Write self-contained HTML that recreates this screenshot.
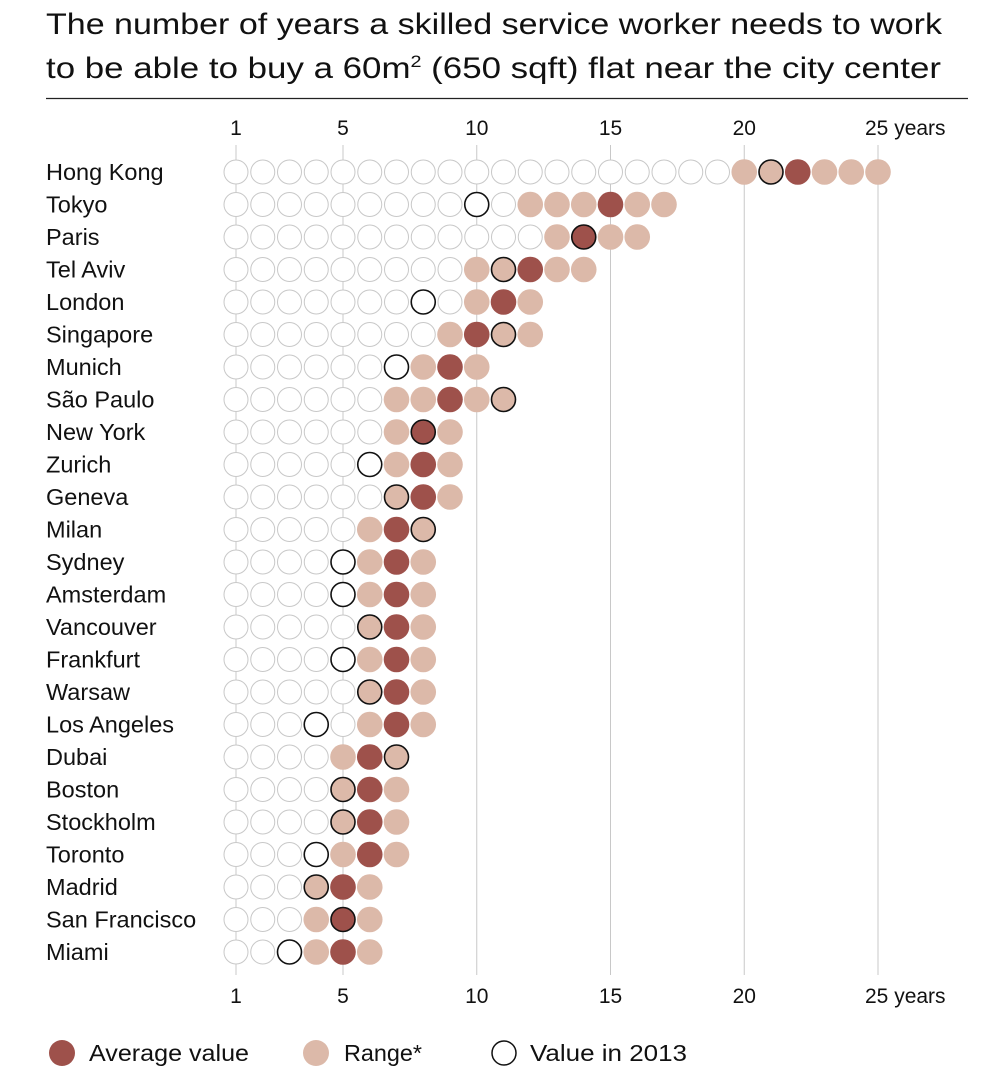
<!DOCTYPE html>
<html><head><meta charset="utf-8">
<style>
body{margin:0;background:#fff;width:1008px;height:1084px;overflow:hidden;font-family:"Liberation Sans",sans-serif;}
svg text{font-family:"Liberation Sans",sans-serif;fill:#111;}
</style></head>
<body>
<svg id="chart" width="1008" height="1084" xmlns="http://www.w3.org/2000/svg">
<text x="46" y="34" font-size="30" textLength="896" lengthAdjust="spacingAndGlyphs">The number of years a skilled service worker needs to work</text>
<text x="46" y="78" font-size="30" textLength="895" lengthAdjust="spacingAndGlyphs">to be able to buy a 60m<tspan font-size="17" dy="-11">2</tspan><tspan dy="11"> (650 sqft) flat near the city center</tspan></text>
<line x1="46" y1="98.5" x2="968" y2="98.5" stroke="#222" stroke-width="1.2"/>
<g id="grid"></g><g id="marks"></g><g id="labels"></g>
<g>
<circle cx="62" cy="1053" r="13" fill="#9e514b"/>
<text x="89" y="1061" font-size="23" textLength="160" lengthAdjust="spacingAndGlyphs">Average value</text>
<circle cx="316" cy="1053" r="13" fill="#dcb9a9"/>
<text x="344" y="1061" font-size="23" textLength="78" lengthAdjust="spacingAndGlyphs">Range*</text>
<circle cx="504" cy="1053" r="12" fill="#fff" stroke="#111" stroke-width="1.5"/>
<text x="530" y="1061" font-size="23" textLength="157" lengthAdjust="spacingAndGlyphs">Value in 2013</text>
</g>
</svg>
<script>
const cities=["Hong Kong","Tokyo","Paris","Tel Aviv","London","Singapore","Munich","São Paulo","New York","Zurich","Geneva","Milan","Sydney","Amsterdam","Vancouver","Frankfurt","Warsaw","Los Angeles","Dubai","Boston","Stockholm","Toronto","Madrid","San Francisco","Miami"];
const rangeMin=[20,12,13,10,10,9,8,7,7,7,7,6,6,6,6,6,6,6,5,5,5,5,4,4,4];
const rangeMax=[25,17,16,14,12,12,10,11,9,9,9,8,8,8,8,8,8,8,7,7,7,7,6,6,6];
const average=[22,15,14,12,11,10,9,9,8,8,8,7,7,7,7,7,7,7,6,6,6,6,5,5,5];
const value2013=[21,10,14,11,8,11,7,11,8,6,7,8,5,5,6,5,6,4,7,5,5,4,4,5,3];
const ticks=[1,5,10,15,20,25];
const tickLabels=["1","5","10","15","20","25 years"];
const NS="http://www.w3.org/2000/svg";
const x=v=>236+(v-1)*26.75;
const y=i=>172+i*32.5;
function mk(tag,attrs,parent){const e=document.createElementNS(NS,tag);for(const k in attrs)e.setAttribute(k,attrs[k]);parent.appendChild(e);return e;}
const grid=document.getElementById('grid'),marks=document.getElementById('marks'),labels=document.getElementById('labels');
ticks.forEach((t,j)=>{
  const l=mk('line',{x1:x(t),x2:x(t),y1:145,y2:975,stroke:'#c8c8c8','stroke-width':1},grid);
  
  
  [135,1003].forEach((yy,k)=>{
    const tx=mk('text',{x:x(t),y:yy,'font-size':21,'text-anchor':tickLabels[j].length>2?'start':'middle'},labels);
    if(tickLabels[j].length>2)tx.setAttribute('x',x(t)-13);
    tx.textContent=tickLabels[j];
    
    
  });
});
cities.forEach((c,i)=>{
  const t=mk('text',{x:46,y:y(i)+8,'font-size':23.5},labels);
  t.textContent=c;
  
  
  for(let v=1;v<=rangeMax[i];v++){
    let fill='#fff',stroke='#c8c8c8',sw=1;
    if(v>=rangeMin[i])fill='#dcb9a9',stroke='none';
    if(v===average[i])fill='#9e514b',stroke='none';
    if(v===value2013[i])stroke='#111',sw=1.6;
    const r=stroke==='none'?12.8:12;
    const ci=mk('circle',{cx:x(v),cy:y(i),r:r,fill:fill,stroke:stroke,'stroke-width':sw},marks);
    
    
  }
});
</script>
</body></html>
